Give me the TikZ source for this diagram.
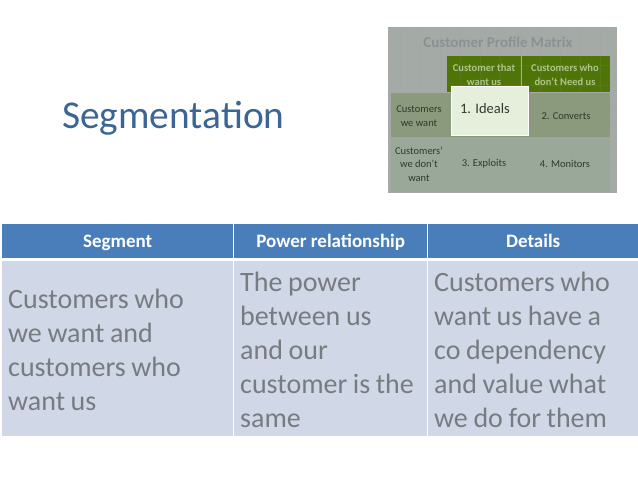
\documentclass[tikz,border=0pt]{standalone}
\usepackage{fontspec}
\setmainfont{Carlito}
\usetikzlibrary{positioning}
\definecolor{headblue}{HTML}{4A7EBB}
\definecolor{bodyblue}{HTML}{D0D8E8}
\definecolor{bodytext}{HTML}{787B80}
\definecolor{titleblue}{HTML}{3A6595}
\definecolor{insetgrey}{HTML}{A4ABA6}
\definecolor{insetgreen}{HTML}{4F7508}
\definecolor{insetrowa}{HTML}{8B9A7C}
\definecolor{insetrowb}{HTML}{9AA89A}
\definecolor{insetwhite}{HTML}{E6EEDC}
\definecolor{insettext}{HTML}{2F3A2E}
\definecolor{insethtext}{HTML}{AEC48C}
\definecolor{insettitle}{HTML}{8A9193}
\tikzset{
    headcell/.style={fill=headblue, text=white, inner sep=0pt, minimum height=34.5pt,
        text height=14pt, text depth=0.5pt,
        font=\fontsize{19}{23}\selectfont\bfseries, anchor=west},
    bodycell/.style={text=bodytext, inner sep=0pt, align=left, anchor=west,
        font=\fontsize{28}{34}\selectfont,
        execute at begin node={\spaceskip=.2em\relax}},
    insetlabel/.style={text=insettext, align=center, inner sep=0pt,
        font=\fontsize{10.5}{13.5}\selectfont},
    insethead/.style={text=insethtext, align=center, inner sep=0pt,
        font=\fontsize{10.5}{14}\selectfont\bfseries},
}
\begin{document}
\begin{tikzpicture}[x=1pt,y=-1pt]
\useasboundingbox (0,0) rectangle (638,479);

% Title
\node[text=titleblue, font=\fontsize{39.4}{46}\selectfont, anchor=west, inner sep=0pt] (title) at (62,118) {Segmentation};

% Inset matrix
\fill[insetgrey] (388,27) rectangle (617,193);
\fill[insetgreen] (447,56) rectangle (610,92);
\fill[insetrowa] (391,93) rectangle (610,137);
\fill[insetrowb] (391,137) rectangle (610,192);
\draw[insetgrey, line width=0.5pt] (521,56) -- (521,92);
\foreach \x in {400,420,...,600} {
    \draw[black!40, opacity=0.12, line width=0.6pt] (\x,27) -- (\x,193);
}
\foreach \y in {45,65,...,185} {
    \draw[black!40, opacity=0.12, line width=0.6pt] (388,\y) -- (617,\y);
}
\node[text=insettitle, font=\fontsize{15}{17}\selectfont\bfseries, inner sep=0pt] (matrixtitle) at (498,42) {Customer Profile Matrix};
\node[insethead] (wantus) at (484,75) {Customer that\\want us};
\node[insethead] (needus) at (565,75) {Customers who\\don't  Need us};
\fill[insetwhite, draw=white, line width=0.5pt] (451,86) rectangle (528,135);
\node[insetlabel, font=\fontsize{14.5}{17}\selectfont] (ideals) at (485,108.5) {1. Ideals};
\node[insetlabel] (converts) at (566,116) {2. Converts};
\node[insetlabel] (exploits) at (484,164) {3. Exploits};
\node[insetlabel] (monitors) at (565,164) {4. Monitors};
\node[insetlabel] (wewant) at (419,116) {Customers\\we want};
\node[insetlabel] (dontwant) at (419,164) {Customers'\\we don't\\want};

% Table header
\node[headcell, minimum width=231pt] (seghead) at (2,241) {Segment};
\node[headcell, minimum width=193pt] (powerhead) at (234,241) {Power relationship};
\node[headcell, minimum width=210pt] (dethead) at (428,241) {Details};

% Table body
\foreach \xa/\xb in {2/233,234/427,428/638} {
    \fill[bodyblue] (\xa,261) rectangle (\xb,436);
}
\node[bodycell] (segbody) at (8,350) {Customers who\\we want and\\customers who\\want us};
\node[bodycell] (powerbody) at (240,350) {The power\\between us\\and our\\customer is the\\same};
\node[bodycell] (detbody) at (434,350) {Customers who\\want us have a\\co dependency\\and value what\\we do for them};
\end{tikzpicture}
\end{document}
